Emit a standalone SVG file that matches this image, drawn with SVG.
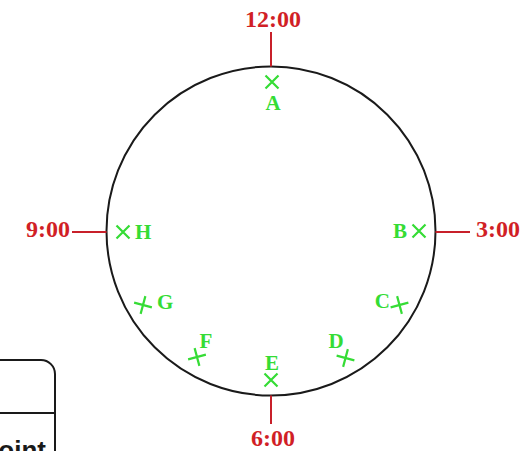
<svg xmlns="http://www.w3.org/2000/svg" width="531" height="451" viewBox="0 0 531 451">
  <style>
    .time { font-family: "Liberation Serif", "Times New Roman", serif; font-weight: bold; font-size: 24px; fill: #d11f26; }
    .lbl { font-family: "Liberation Serif", "Times New Roman", serif; font-weight: bold; font-size: 21px; fill: #35dc35; }
    .tick { stroke: #c8202a; stroke-width: 2; fill: none; }
    .cross { stroke: #35dc35; stroke-width: 2.2; fill: none; }
    .dial { stroke: #1a1a1a; stroke-width: 2; fill: none; }
    .box { stroke: #1a1a1a; stroke-width: 2; fill: none; }
  </style>
  <defs>
    <path id="x" d="M-6.5,-6.5 L6.5,6.5 M6.5,-6.5 L-6.5,6.5"/>
  </defs>
  <rect width="531" height="451" fill="#ffffff"/>

  <g id="dial">
    <circle class="dial" cx="271" cy="231" r="164.5"/>
  </g>

  <g id="connectors">
    <line class="tick" x1="271" y1="32" x2="271" y2="66.5"/>
    <line class="tick" x1="271" y1="395.5" x2="271" y2="424"/>
    <line class="tick" x1="72" y1="232" x2="106.5" y2="232"/>
    <line class="tick" x1="435.5" y1="232" x2="470" y2="232"/>
  </g>

  <g id="time-12"><text class="time" x="273" y="27" text-anchor="middle">12:00</text></g>
  <g id="time-3"><text class="time" x="476" y="237">3:00</text></g>
  <g id="time-6"><text class="time" x="273" y="446" text-anchor="middle">6:00</text></g>
  <g id="time-9"><text class="time" x="70" y="237" text-anchor="end">9:00</text></g>

  <g id="point-A">
    <use href="#x" class="cross" transform="translate(272,82)"/>
    <text class="lbl" x="273" y="110" text-anchor="middle">A</text>
  </g>
  <g id="point-B">
    <use href="#x" class="cross" transform="translate(419,231)"/>
    <text class="lbl" x="407" y="238" text-anchor="end">B</text>
  </g>
  <g id="point-C">
    <use href="#x" class="cross" transform="translate(399.5,305) rotate(30)"/>
    <text class="lbl" x="390" y="308" text-anchor="end">C</text>
  </g>
  <g id="point-D">
    <use href="#x" class="cross" transform="translate(345.5,358) rotate(60)"/>
    <text class="lbl" x="336" y="348" text-anchor="middle">D</text>
  </g>
  <g id="point-E">
    <use href="#x" class="cross" transform="translate(271,380)"/>
    <text class="lbl" x="272" y="370" text-anchor="middle">E</text>
  </g>
  <g id="point-F">
    <use href="#x" class="cross" transform="translate(197,357) rotate(-60)"/>
    <text class="lbl" x="206" y="348" text-anchor="middle">F</text>
  </g>
  <g id="point-G">
    <use href="#x" class="cross" transform="translate(143,305) rotate(-30)"/>
    <text class="lbl" x="157" y="309">G</text>
  </g>
  <g id="point-H">
    <use href="#x" class="cross" transform="translate(123,232)"/>
    <text class="lbl" x="135" y="239">H</text>
  </g>

  <g id="legend-box">
    <path class="box" d="M-5,360 L41,360 A14,14 0 0 1 55,374 L55,460"/>
    <line class="box" x1="-5" y1="413" x2="55" y2="413"/>
    <text x="46" y="459" text-anchor="end" font-family="Liberation Sans, Arial, sans-serif" font-weight="bold" font-size="26" fill="#1a1a1a">Joint</text>
  </g>
</svg>
